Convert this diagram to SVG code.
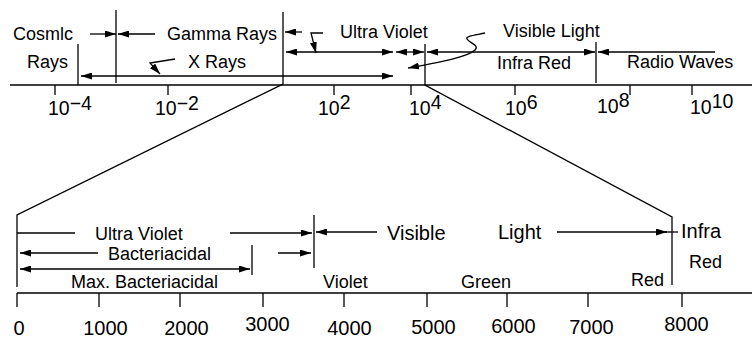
<svg xmlns="http://www.w3.org/2000/svg" width="752" height="339" viewBox="0 0 752 339">
<defs>
<marker id="ah" markerUnits="userSpaceOnUse" markerWidth="11" markerHeight="7" refX="11" refY="3.5" orient="auto-start-reverse" viewBox="0 0 11 7">
<path d="M0,0 L11,3.5 L0,7 z" fill="#000"/>
</marker>
<style>
.l{stroke:#000;stroke-width:1.3;fill:none}
.a{stroke:#000;stroke-width:1.3;fill:none;marker-end:url(#ah)}
.d{stroke:#000;stroke-width:1.3;fill:none;marker-start:url(#ah);marker-end:url(#ah)}
text{font-family:"Liberation Sans",Arial,sans-serif;fill:#000;font-size:18px}
.n{font-size:19.5px}
.b{font-size:20px}
.m{font-size:20px;text-anchor:middle}
</style>
</defs>
<g id="axes">
<line class="l" x1="10" y1="85" x2="752" y2="85"/>
<path class="l" d="M55,85V95M168,85V95M334,85V95M411,85V95M515,85V95M630,85V95M692,85V95"/>
<line class="l" x1="17" y1="293" x2="752" y2="293"/>
<path class="l" d="M17,293V307M99,293V307M180,293V307M263,293V307M344,293V307M427,293V307M507,293V307M588,293V307M682,293V307"/>
</g>
<g id="boundaries">
<line class="l" x1="78" y1="44" x2="78" y2="85"/>
<line class="l" x1="116" y1="10" x2="116" y2="83"/>
<path class="l" d="M283,12V84L17,215V287"/>
<path class="l" d="M425,44V85L672,217V285"/>
<line class="l" x1="596" y1="42" x2="596" y2="83"/>
<line class="l" x1="314" y1="215" x2="314" y2="268"/>
<line class="l" x1="252" y1="245" x2="252" y2="275"/>
</g>
<g id="connectors">
<line class="a" x1="90" y1="34" x2="116" y2="34"/>
<line class="a" x1="155" y1="34" x2="118" y2="34"/>
<line class="a" x1="302" y1="32" x2="285" y2="32"/>
<line class="d" x1="81" y1="76" x2="393" y2="76"/>
<path class="a" d="M175,59L150,63L160,74"/>
<line class="d" x1="286" y1="52" x2="393" y2="52"/>
<path class="a" d="M323,33L311,33L316,53"/>
<line class="d" x1="396" y1="52" x2="424" y2="52"/>
<line class="d" x1="427" y1="52" x2="595" y2="52"/>
<line class="a" x1="715" y1="52" x2="598" y2="52"/>
<path class="a" d="M485,33C476,35 465,36 467,39C469,43 480,45 475,50C468,57 440,62 408,68"/>
<line class="l" x1="17" y1="233" x2="75" y2="233"/>
<line class="a" x1="230" y1="233" x2="312" y2="233"/>
<line class="a" x1="377" y1="232" x2="316" y2="232"/>
<line class="a" x1="557" y1="232" x2="667" y2="232"/>
<line class="l" x1="665" y1="232" x2="678" y2="232"/>
<line class="a" x1="98" y1="253" x2="20" y2="253"/>
<line class="a" x1="278" y1="253" x2="311" y2="253"/>
<line class="d" x1="20" y1="269" x2="250" y2="269"/>
</g>
<g id="top-labels">
<text x="13" y="40">Cosmlc</text>
<text x="27" y="68">Rays</text>
<text x="167" y="40">Gamma Rays</text>
<text x="188" y="68">X Rays</text>
<text x="340" y="38">Ultra Violet</text>
<text x="503" y="37">Visible Light</text>
<text x="497" y="69">Infra Red</text>
<text x="627" y="68">Radio Waves</text>
</g>
<g id="top-scale">
<text class="n" x="48" y="115">10<tspan dy="-5">−4</tspan></text>
<text class="n" x="155" y="115">10<tspan dy="-5">−2</tspan></text>
<text class="n" x="318" y="115">10<tspan dy="-6">2</tspan></text>
<text class="n" x="409" y="115">10<tspan dy="-6">4</tspan></text>
<text class="n" x="505" y="115">10<tspan dy="-6">6</tspan></text>
<text class="n" x="597" y="113">10<tspan dy="-6">8</tspan></text>
<text class="n" x="690" y="114">10<tspan dy="-6">10</tspan></text>
</g>
<g id="bottom-labels">
<text x="95" y="240">Ultra Violet</text>
<text x="108" y="260">Bacteriacidal</text>
<text x="71" y="288">Max. Bacteriacidal</text>
<text class="b" x="387" y="240">Visible</text>
<text class="b" x="498" y="239">Light</text>
<text class="b" x="681" y="238">Infra</text>
<text x="689" y="268">Red</text>
<text x="323" y="288">Violet</text>
<text x="461" y="288">Green</text>
<text x="631" y="286">Red</text>
</g>
<g id="bottom-scale">
<text class="m" x="19" y="335">0</text>
<text class="m" x="105.5" y="335">1000</text>
<text class="m" x="186.5" y="335">2000</text>
<text class="m" x="267.5" y="331">3000</text>
<text class="m" x="349.5" y="335">4000</text>
<text class="m" x="433.5" y="334">5000</text>
<text class="m" x="513.5" y="333">6000</text>
<text class="m" x="591.5" y="334">7000</text>
<text class="m" x="686.5" y="331">8000</text>
</g>
</svg>
